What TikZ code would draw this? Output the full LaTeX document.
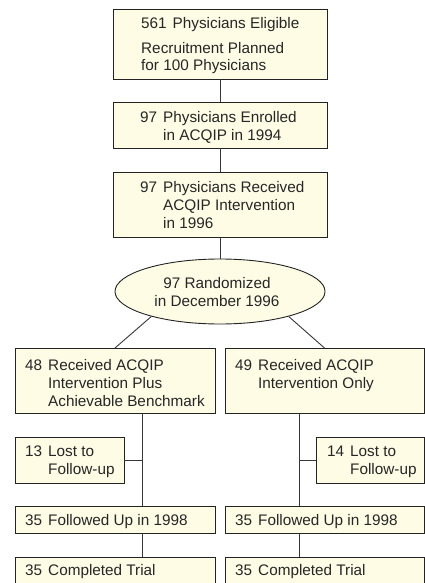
\documentclass[tikz,border=0pt]{standalone}
\usepackage{fontspec}
\setmainfont{Liberation Sans}
\usetikzlibrary{shapes.geometric}
\definecolor{cream}{RGB}{255,252,230}
\definecolor{edgec}{RGB}{35,35,35}
\definecolor{wire}{RGB}{55,55,55}
\newcommand\hangtxt[2]{\begin{tabular}[t]{@{}l@{\hspace{6pt}}l@{}}#1 & #2\end{tabular}}
\newcommand\rowstxt[1]{\begin{tabular}[t]{@{}l@{}}#1\end{tabular}}
\begin{document}
\begin{tikzpicture}[x=1pt,y=-1pt,
  boxc/.style={draw=edgec,fill=cream,line width=0.9pt,rectangle,inner sep=0pt,outer sep=0pt,anchor=north west},
  txt/.style={anchor=base west,inner sep=0pt,font=\fontsize{15.3}{18}\selectfont,text=black!85},
  wirec/.style={draw=wire,line width=0.9pt}]
\useasboundingbox (0,0) rectangle (425,583);
% boxes
\node[boxc,minimum width=214pt,minimum height=70pt] (b1) at (113,9) {};
\node[boxc,minimum width=214pt,minimum height=46pt] (b2) at (113,102) {};
\node[boxc,minimum width=214pt,minimum height=65pt] (b3) at (113,172) {};
\node[draw=edgec,fill=cream,line width=0.9pt,ellipse,inner sep=0pt,minimum width=210pt,minimum height=65pt] (e) at (220,291.5) {};
\node[boxc,minimum width=200pt,minimum height=65pt] (L1) at (15,348) {};
\node[boxc,minimum width=199pt,minimum height=65pt] (R1) at (225,348) {};
\node[boxc,minimum width=109pt,minimum height=46pt] (LL) at (15,437) {};
\node[boxc,minimum width=108pt,minimum height=46pt] (LR) at (316,437) {};
\node[boxc,minimum width=200pt,minimum height=27pt] (FL) at (15,506) {};
\node[boxc,minimum width=199pt,minimum height=27pt] (FR) at (225,506) {};
\node[boxc,minimum width=200pt,minimum height=40pt] (CL) at (15,557) {};
\node[boxc,minimum width=199pt,minimum height=40pt] (CR) at (225,557) {};
% texts
\node[txt] (t1a) at (141,28.5) {561\hspace{6pt}Physicians Eligible};
\node[txt,font=\fontsize{15.3}{17.5}\selectfont] (t1b) at (141,53.5) {\rowstxt{Recruitment Planned\\for 100 Physicians}};
\node[txt] (t2) at (140,122) {\hangtxt{97}{Physicians Enrolled\\ & in ACQIP in 1994}};
\node[txt] (t3) at (140,192) {\hangtxt{97}{Physicians Received\\ & ACQIP Intervention\\ & in 1996}};
\node[txt,anchor=base] (te) at (217,288) {\begin{tabular}[t]{@{}c@{}}97 Randomized\\in December 1996\end{tabular}};
\node[txt] (tL1) at (25,370) {\hangtxt{48}{Received ACQIP\\ & Intervention Plus\\ & Achievable Benchmark}};
\node[txt] (tR1) at (235,370) {\hangtxt{49}{Received ACQIP\\ & Intervention Only}};
\node[txt] (tLL) at (25,456) {\hangtxt{13}{Lost to\\ & Follow-up}};
\node[txt] (tLR) at (327,456) {\hangtxt{14}{Lost to\\ & Follow-up}};
\node[txt] (tFL) at (25,525) {35\hspace{6pt}Followed Up in 1998};
\node[txt] (tFR) at (235,525) {35\hspace{6pt}Followed Up in 1998};
\node[txt] (tCL) at (25,575) {35\hspace{6pt}Completed Trial};
\node[txt] (tCR) at (235,575) {35\hspace{6pt}Completed Trial};
% connectors
\coordinate (lx) at (142,0);
\coordinate (rx) at (299,0);
\draw[wirec] (b1.south) -- (b2.north);
\draw[wirec] (b2.south) -- (b3.north);
\draw[wirec] (b3.south) -- (e.north);
\draw[wirec] (e.200) -- (L1.north);
\draw[wirec] (e.340) -- (R1.north);
\draw[wirec] (L1.south -| lx) -- (FL.north -| lx);
\draw[wirec] (FL.south -| lx) -- (CL.north -| lx);
\draw[wirec] (LL.east) -- (LL.east -| lx);
\draw[wirec] (R1.south -| rx) -- (FR.north -| rx);
\draw[wirec] (FR.south -| rx) -- (CR.north -| rx);
\draw[wirec] (LR.west) -- (LR.west -| rx);
\end{tikzpicture}
\end{document}
